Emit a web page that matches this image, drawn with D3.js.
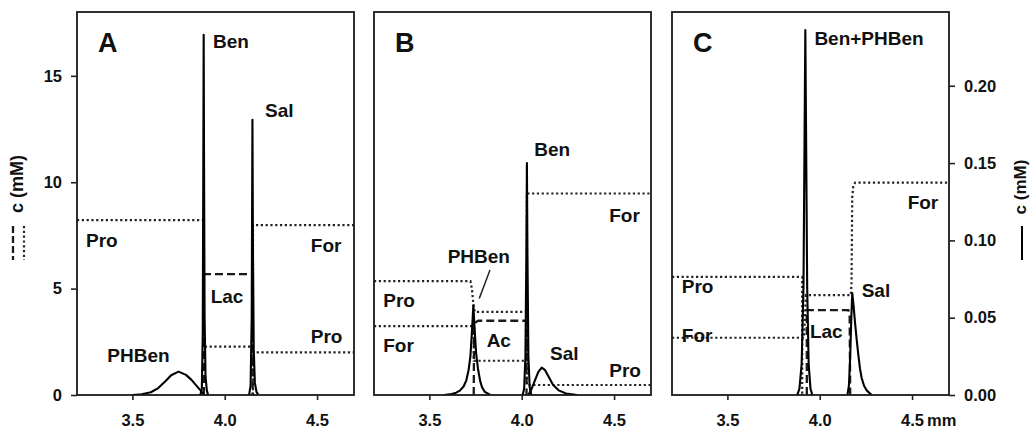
<!DOCTYPE html>
<html>
<head>
<meta charset="utf-8">
<script src="https://cdn.jsdelivr.net/npm/d3@7"></script>
<style>
  body { margin: 0; background: #fff; }
  text { font-family: "Liberation Sans", Arial, Helvetica, sans-serif; font-weight: bold; fill: #111; }
</style>
</head>
<body>
<svg id="chart" width="1031" height="428"></svg>
<script>
// ---------- axis ticks ----------
const mmTicks = [3.5, 4.0, 4.5];
const leftTicks = [0, 5, 10, 15];          // dashed / dotted profiles, c (mM)
const rightTicks = [0, 0.05, 0.10, 0.15, 0.20]; // solid analyte peaks, c (mM)

// ---------- panel A ----------
// solid peaks: [position (mm), c (mM, right axis)]
const peakA_PHBen = [[3.50,0],[3.55,0.0005],[3.60,0.0018],[3.64,0.0045],[3.68,0.0090],[3.71,0.0128],[3.75,0.0151],[3.79,0.0130],[3.82,0.0098],[3.85,0.0056],[3.87,0.0028],[3.882,0.0008],[3.886,0]];
const peakA_Ben   = [[3.868,0],[3.876,0.004],[3.881,0.04],[3.884,0.15],[3.886,0.233],[3.888,0.15],[3.891,0.05],[3.896,0.012],[3.903,0.003],[3.910,0]];
const peakA_Sal   = [[4.132,0],[4.140,0.006],[4.146,0.05],[4.150,0.178],[4.153,0.09],[4.157,0.03],[4.163,0.008],[4.172,0.002],[4.182,0]];
// background electrolyte profiles: [position (mm), c (mM, left axis)]
const profA_Pro = [[3.2,8.22],[3.887,8.22],[3.887,2.27],[4.151,2.27],[4.151,2.0],[4.7,2.0]];
const profA_For = [[4.153,0],[4.153,7.98],[4.7,7.98]];
const profA_Lac = [[3.887,0],[3.887,5.68],[4.151,5.68],[4.151,0]];

// ---------- panel B ----------
const peakB_PHBen = [[3.58,0],[3.62,0.0006],[3.645,0.0015],[3.665,0.0028],[3.685,0.0055],[3.70,0.0095],[3.712,0.016],[3.722,0.025],[3.730,0.040],[3.738,0.058],[3.745,0.042],[3.753,0.027],[3.763,0.017],[3.775,0.009],[3.785,0.005],[3.80,0.002],[3.83,0]];
const peakB_Ben   = [[4.005,0],[4.013,0.004],[4.020,0.025],[4.025,0.09],[4.028,0.150],[4.031,0.09],[4.036,0.025],[4.043,0.005],[4.052,0]];
const peakB_Sal   = [[4.035,0],[4.05,0.003],[4.07,0.009],[4.09,0.015],[4.108,0.0177],[4.125,0.0163],[4.145,0.012],[4.17,0.0065],[4.20,0.003],[4.24,0.001],[4.30,0]];
const profB_Pro = [[3.2,5.35],[3.722,5.35],[3.730,5.0],[3.738,4.3],[3.745,3.91],[4.028,3.91],[4.028,0.47],[4.7,0.47]];
const profB_For = [[3.2,3.24],[3.740,3.24],[3.740,1.61],[4.028,1.61],[4.028,9.47],[4.7,9.47]];
const profB_Ac  = [[3.740,0],[3.742,3.1],[3.750,3.42],[3.765,3.49],[4.026,3.49],[4.026,0]];

// ---------- panel C ----------
const peakC_BenPHBen = [[3.878,0],[3.890,0.004],[3.902,0.02],[3.912,0.07],[3.918,0.17],[3.922,0.236],[3.926,0.17],[3.932,0.07],[3.940,0.02],[3.950,0.004],[3.960,0]];
const peakC_Sal      = [[4.150,0],[4.158,0.006],[4.165,0.025],[4.171,0.050],[4.176,0.066],[4.183,0.058],[4.191,0.047],[4.200,0.036],[4.209,0.026],[4.218,0.017],[4.227,0.011],[4.240,0.006],[4.254,0.003],[4.281,0]];
const profC_Pro = [[3.2,5.55],[3.905,5.55],[3.905,0]];
const profC_For = [[3.2,2.69],[3.915,2.69],[3.925,4.69],[4.168,4.69],[4.172,5.2],[4.176,9.3],[4.182,9.85],[4.192,9.98],[4.7,9.98]];
const profC_Lac = [[3.93,0],[3.93,3.99],[4.155,3.99],[4.162,3.75],[4.165,0]];

// ---------- annotations: [text, position (mm), c (left axis)] ----------
const notesA = [["Ben",3.936,16.29],["Sal",4.218,13.08],["Pro",3.249,6.97],["Lac",3.924,4.31],["For",4.466,6.73],["Pro",4.466,2.43],["PHBen",3.364,1.565]];
const notesB = [["Ben",4.068,11.25],["For",4.474,8.14],["PHBen",3.599,6.19],["Pro",3.250,4.12],["For",3.250,2.03],["Ac",3.810,2.27],["Sal",4.153,1.645],["Pro",4.474,0.86]];
const notesC = [["Ben+PHBen",3.971,16.45],["For",4.476,8.73],["Pro",3.253,4.78],["Sal",4.227,4.62],["For",3.253,2.50],["Lac",3.947,2.66]];

// ---------- layout ----------
const svg = d3.select("#chart");
const plotTop = 12, plotBottom = 395, panelW = 277;
const yL = d3.scaleLinear().domain([0, 18]).range([plotBottom, plotTop]);
const yR = d3.scaleLinear().domain([0, 0.2477]).range([plotBottom, plotTop]);

const dotStyle = { stroke: "#222", width: 2.2, dash: "2.2,2.6" };
const dashStyle = { stroke: "#1a1a1a", width: 2.3, dash: "8,4" };

const panels = [
  { x0: 77,  letter: "A", peaks: [peakA_PHBen, peakA_Ben, peakA_Sal],
    dotted: [profA_Pro, profA_For], dashed: [profA_Lac], notes: notesA },
  { x0: 374, letter: "B", peaks: [peakB_PHBen, peakB_Ben, peakB_Sal],
    dotted: [profB_Pro, profB_For], dashed: [profB_Ac], notes: notesB,
    pointer: [[3.828, 5.87], [3.770, 4.54]] },
  { x0: 672, letter: "C", peaks: [peakC_BenPHBen, peakC_Sal],
    dotted: [profC_Pro, profC_For], dashed: [profC_Lac], notes: notesC }
];

panels.forEach((p, i) => {
  const x = d3.scaleLinear().domain([3.2, 4.7]).range([p.x0, p.x0 + panelW]);
  const g = svg.append("g");

  const lineL = d3.line().x(d => x(d[0])).y(d => yL(d[1]));
  const lineR = d3.line().x(d => x(d[0])).y(d => yR(d[1]));

  // clip to the plotting frame
  const clipId = "clip" + i;
  svg.append("clipPath").attr("id", clipId).append("rect")
    .attr("x", p.x0).attr("y", plotTop).attr("width", panelW).attr("height", plotBottom - plotTop);
  const plot = g.append("g").attr("clip-path", `url(#${clipId})`);

  // electrolyte zone profiles
  p.dotted.forEach(s => plot.append("path").datum(s).attr("d", lineL)
    .attr("fill", "none").attr("stroke", dotStyle.stroke).attr("stroke-width", dotStyle.width)
    .attr("stroke-dasharray", dotStyle.dash));
  p.dashed.forEach(s => plot.append("path").datum(s).attr("d", lineL)
    .attr("fill", "none").attr("stroke", dashStyle.stroke).attr("stroke-width", dashStyle.width)
    .attr("stroke-dasharray", dashStyle.dash));

  // analyte peaks
  p.peaks.forEach(s => plot.append("path").datum(s).attr("d", lineR)
    .attr("fill", "none").attr("stroke", "#000").attr("stroke-width", 2.1)
    .attr("stroke-linejoin", "round"));

  // frame
  g.append("rect").attr("x", p.x0).attr("y", plotTop).attr("width", panelW).attr("height", plotBottom - plotTop)
    .attr("fill", "none").attr("stroke", "#1a1a1a").attr("stroke-width", 1.8);

  // x axis ticks
  const ax = g.append("g").attr("transform", `translate(0,${plotBottom})`)
    .call(d3.axisBottom(x).tickValues(mmTicks).tickSize(5).tickPadding(14).tickFormat(d3.format(".1f")));
  ax.select(".domain").remove();
  ax.selectAll("line").attr("stroke", "#222").attr("stroke-width", 1.6);
  ax.selectAll("text").attr("font-size", 16.5);
  ax.attr("font-family", null);

  if (i === 0) {
    const ay = g.append("g").attr("transform", `translate(${p.x0},0)`)
      .call(d3.axisLeft(yL).tickValues(leftTicks).tickSize(6).tickPadding(9));
    ay.select(".domain").remove();
    ay.selectAll("line").attr("stroke", "#222").attr("stroke-width", 1.6);
    ay.selectAll("text").attr("font-size", 16.5);
    ay.attr("font-family", null);
  }
  if (i === 2) {
    const ay = g.append("g").attr("transform", `translate(${p.x0 + panelW},0)`)
      .call(d3.axisRight(yR).tickValues(rightTicks).tickSize(6).tickPadding(9).tickFormat(d3.format(".2f")));
    ay.select(".domain").remove();
    ay.selectAll("line").attr("stroke", "#222").attr("stroke-width", 1.6);
    ay.selectAll("text").attr("font-size", 16.5);
    ay.attr("font-family", null);
    // unit after the last position tick
    g.append("text").attr("x", x(4.5) + 15).attr("y", plotBottom + 19).attr("dy", "0.71em")
      .attr("font-size", 16.5).text("mm");
  }

  // panel letter
  g.append("text").attr("x", p.x0 + 21).attr("y", 52).attr("font-size", 27).text(p.letter);

  // zone / peak names
  p.notes.forEach(n => g.append("text").attr("x", x(n[1])).attr("y", yL(n[2]))
    .attr("font-size", 19).text(n[0]));

  if (p.pointer) {
    g.append("path").datum(p.pointer).attr("d", lineL)
      .attr("stroke", "#222").attr("stroke-width", 1.5).attr("fill", "none");
  }
});

// left axis title with line-style key (dashed and dotted profiles)
svg.append("line").attr("x1", 13).attr("x2", 13).attr("y1", 226).attr("y2", 260)
  .attr("stroke", dashStyle.stroke).attr("stroke-width", dashStyle.width).attr("stroke-dasharray", "7,3");
svg.append("line").attr("x1", 24).attr("x2", 24).attr("y1", 226).attr("y2", 260)
  .attr("stroke", dotStyle.stroke).attr("stroke-width", dotStyle.width).attr("stroke-dasharray", dotStyle.dash);
svg.append("text").attr("transform", "translate(23,184) rotate(-90)")
  .attr("text-anchor", "middle").attr("font-size", 18).text("c (mM)");

// right axis title with line-style key (solid peaks)
svg.append("line").attr("x1", 1022).attr("x2", 1022).attr("y1", 226).attr("y2", 260)
  .attr("stroke", "#000").attr("stroke-width", 2);
svg.append("text").attr("transform", "translate(1026,187) rotate(-90)")
  .attr("text-anchor", "middle").attr("font-size", 17).text("c (mM)");
</script>
</body>
</html>
